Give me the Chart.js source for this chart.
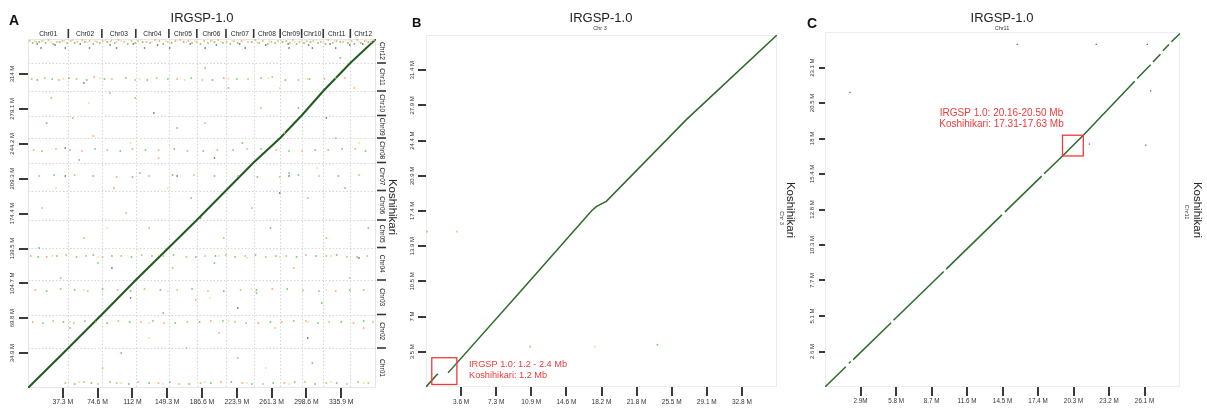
<!DOCTYPE html>
<html><head><meta charset="utf-8">
<script src="https://cdn.jsdelivr.net/npm/chart.js@4.4.1/dist/chart.umd.min.js"></script>
<style>
html,body{margin:0;padding:0;background:#fff;width:1207px;height:408px;overflow:hidden}
canvas{position:absolute;top:0}
#ca{left:0}#cb{left:405px}#cc{left:805px}
</style></head><body>
<canvas id="ca" width="405" height="408"></canvas>
<canvas id="cb" width="400" height="408"></canvas>
<canvas id="cc" width="402" height="408"></canvas>
<script>
// ---------------- DATA ----------------
const chrNames = ['Chr01','Chr02','Chr03','Chr04','Chr05','Chr06','Chr07','Chr08','Chr09','Chr10','Chr11','Chr12'];
const irgspChrLen = [43.27,35.94,36.41,35.50,29.96,31.25,29.70,28.44,23.01,23.21,29.02,27.53];
const koshChrLen  = [40.0,33.5,34.5,32.5,27.5,29.5,28.0,24.5,22.5,24.5,28.0,24.0];

const aXMax = 373.24, aYMax = 349;
const aXTicks = [37.3,74.6,112,149.3,186.6,223.9,261.3,298.6,335.9];
const aXLabels = ['37.3 M','74.6 M','112 M','149.3 M','186.6 M','223.9 M','261.3 M','298.6 M','335.9 M'];
const aYTicks = [34.9,69.8,104.7,139.5,174.4,209.3,244.2,279.1,314];
const aYLabels = ['34.9 M','69.8 M','104.7 M','139.5 M','174.4 M','209.3 M','244.2 M','279.1 M','314 M'];

const bXMax = 36.4, bYMax = 34.89;
const bXTicks = [3.64,7.28,10.92,14.56,18.2,21.84,25.48,29.12,32.76];
const bXLabels = ['3.6 M','7.3 M','10.9 M','14.6 M','18.2 M','21.8 M','25.5 M','29.1 M','32.8 M'];
const bYTicks = [3.49,6.98,10.47,13.96,17.45,20.93,24.42,27.91,31.4];
const bYLabels = ['3.5 M','7 M','10.5 M','13.9 M','17.4 M','20.9 M','24.4 M','27.9 M','31.4 M'];

const cXMax = 29.0, cYMax = 25.66;
const cXTicks = [2.9,5.8,8.7,11.6,14.5,17.4,20.3,23.2,26.1];
const cXLabels = ['2.9M','5.8 M','8.7 M','11.6 M','14.5 M','17.4 M','20.3 M','23.2 M','26.1 M'];
const cYTicks = [2.566,5.13,7.7,10.26,12.83,15.4,17.96,20.53,23.09];
const cYLabels = ['2.6 M','5.1 M','7.7 M','10.3 M','12.8 M','15.4 M','18 M','20.5 M','23.1 M'];

// Panel A: genome-wide diagonal (IRGSP Mb, Koshihikari Mb)
const aDiagonal = [[0,0],[43.27,40],[79.21,73.5],[115.62,108],[151.12,140.5],[181.08,168],[212.33,197.5],[242.03,225.5],[270.47,250],[293.48,272.5],[316.69,297],[345.71,325],[373.24,349]];
const aOrange = [[2,347],[9,346],[15,347],[22,348],[31,346],[37,347],[46,347],[53,346],[58,348],[66,347],[74,346],[80,347],[89,347],[97,348],[103,346],[111,347],[118,347],[127,346],[136,348],[141,347],[150,346],[158,347],[163,348],[172,347],[181,346],[189,347],[196,347],[204,348],[213,346],[221,347],[229,347],[236,346],[244,348],[252,347],[261,346],[268,347],[277,347],[284,348],[291,346],[299,347],[306,347],[314,346],[322,348],[331,347],[338,346],[347,347],[353,348],[361,347],[368,346],
[4,309],[18,310],[33,308],[52,309],[71,311],[90,309],[115,308],[138,310],[160,309],[187,308],[210,310],[236,309],[262,311],[290,308],[318,309],[340,310],
[6,238],[30,239],[58,237],[85,238],[112,239],[140,238],[171,237],[203,238],[235,239],[266,238],[294,237],[322,238],[351,239],
[12,212],[50,213],[95,211],[130,212],[178,213],[225,212],[270,211],[312,212],[355,213],
[3,132],[20,131],[41,133],[62,132],[80,131],[100,132],[122,133],[145,132],[170,131],[190,132],[212,133],[233,132],[255,131],[277,132],[298,133],[320,132],[342,131],[364,132],
[8,98],[35,99],[64,97],[96,98],[125,99],[160,98],[193,97],[228,98],[262,99],[295,98],[330,97],[360,98],
[5,66],[27,67],[49,65],[73,66],[97,67],[121,66],[146,65],[171,66],[196,67],[222,66],[247,65],[272,66],[298,67],[323,66],[349,65],[370,66],
[40,5],[60,6],[75,4],[95,5],[118,6],[140,5],[162,4],[185,5],[207,6],[230,5],[252,4],[275,5],[297,6],[320,5],[342,4],[365,5],
[25,290],[48,270],[70,252],[92,200],[105,175],[130,160],[155,120],[180,88],[205,55],[225,30],[250,280],[275,255],[300,190],[320,150],[345,110],[360,60],[15,180],[60,150],[115,290],[140,230],[190,265],[240,180],[285,120],[330,250],[350,300],[210,150],[170,40],[80,20],[35,110],[265,60]];
const aGreen = [[5,345],[12,346],[19,345],[27,344],[34,346],[42,345],[50,345],[61,346],[70,344],[77,345],[85,346],[93,345],[107,344],[115,345],[123,346],[131,345],[145,344],[154,345],[167,346],[176,345],[185,344],[193,345],[200,346],[209,345],[217,344],[225,345],[240,346],[248,345],[257,344],[265,345],[273,346],[281,345],[288,344],[296,345],[303,346],[311,345],[319,344],[327,345],[335,346],[343,345],[350,344],[357,345],[365,346],
[10,308],[26,309],[44,310],[63,308],[82,309],[105,310],[128,308],[150,309],[175,310],[198,308],[224,309],[250,310],[276,308],[302,309],[330,310],
[15,237],[45,238],[72,239],[99,237],[126,238],[157,239],[188,237],[220,238],[250,239],[280,237],[308,238],[337,239],[362,237],
[28,213],[70,212],[112,211],[155,213],[200,212],[246,211],[290,213],[333,212],
[11,131],[31,132],[52,131],[70,133],[90,132],[111,131],[133,132],[156,133],[180,131],[201,132],[222,131],[244,133],[266,132],[288,131],[309,132],[331,133],[353,131],
[20,97],[50,98],[80,99],[110,97],[142,98],[176,99],[210,97],[245,98],[278,99],[312,97],[345,98],
[16,65],[38,66],[61,67],[85,65],[109,66],[134,67],[158,65],[184,66],[209,67],[234,65],[260,66],[285,67],[311,65],[336,66],[360,67],
[50,4],[68,5],[88,6],[108,4],[130,5],[152,6],[173,4],[196,5],[218,6],[240,4],[263,5],[286,6],[308,4],[331,5],[354,6],
[20,265],[55,228],[88,295],[120,215],[145,75],[175,190],[200,125],[230,245],[260,160],[290,280],[315,85],[340,200],[365,160],[45,60],[75,125],[100,35],[160,260],[215,300],[245,95],[305,25],[335,330],[12,140],[190,320],[280,215]];
const aYellow = [[7,347],[17,348],[25,346],[39,347],[48,348],[63,346],[72,347],[83,348],[95,346],[100,347],[121,348],[133,346],[148,347],[160,348],[170,346],[179,347],[198,348],[207,346],[219,347],[232,348],[246,346],[259,347],[271,348],[286,346],[294,347],[309,348],[317,346],[329,347],[341,348],[355,346],[363,347],[371,348],
[38,309],[77,310],[120,309],[168,308],[215,309],[258,310],[300,309],
[26,132],[75,131],[140,133],[205,132],[270,131],[325,132],
[60,98],[150,97],[240,99],[320,98],
[45,66],[130,65],[215,67],[300,66],
[55,6],[100,5],[145,4],[190,6],[235,5],[280,4],[325,6],[360,5],
[30,200],[65,285],[110,245],[150,200],[195,90],[235,130],[270,300],[310,220],[355,245],[85,160],[130,50],[255,20]];
const aDark = [[10,344],[29,343],[56,344],[88,343],[113,344],[139,343],[174,344],[202,343],[227,344],[255,343],[279,344],[301,343],[324,344],[345,343],[359,344],
[14,340],[40,340],[66,340],[95,340],[125,340],[152,340],[190,340],[233,340],[280,340],[305,340],[330,340],
[40,212],[160,212],[280,212],
[40,240],[90,120],[135,275],[185,170],[225,80],[270,195],[320,270],[355,130],[60,305],[110,90],[200,230],[300,50]];

// Panel B: Chr 3 (IRGSP Mb, Koshihikari Mb)
const bSegments = [
  [[0,0],[1.22,1.31]],
  [[2.29,1.40],[10.0,9.7],[17.2,17.5],[17.7,17.9],[18.2,18.15],[18.7,18.4],[27.0,26.5],[36.4,34.89]]
];
const bDots = [[0.1,15.4],[3.2,15.4],[10.8,4.0],[17.5,4.0],[24.0,4.2]];
const bDotColors = ['#f5a05a','#f6c070','#f5a05a','#f6d48f','#62c462'];
const bBox = [0.6,0.25,3.2,2.9];

// Panel C: Chr11
const cSegments = [
  [[0,0],[1.7,1.46]],
  [[1.95,1.72],[2.1,1.84]],
  [[2.3,1.98],[5.4,4.65]],
  [[5.6,4.82],[9.7,8.35]],
  [[9.9,8.52],[14.45,12.44]],
  [[14.7,12.66],[17.7,15.24]],
  [[17.9,15.41],[19.4,16.7],[21.1,18.2],[25.3,22.1]],
  [[25.5,22.3],[26.6,23.3]],
  [[26.8,23.5],[27.4,24.05]],
  [[27.6,24.3],[28.1,24.75]],
  [[28.3,24.95],[29.0,25.55]]
];
const cDots = [[15.7,24.77],[22.16,24.77],[26.33,24.77],[2.04,21.3],[21.6,17.56],[26.2,17.49],[26.6,21.4]];
const cBox = [19.4,16.7,21.1,18.2];

// ---------------- HELPERS ----------------
const FONT = '"Liberation Sans", Arial, Helvetica, sans-serif';
const RED = '#f03a3a';
const LINE_GREEN = '#2a6a2a';
function txt(ctx, s, x, y, size, o) {
  o = o || {};
  ctx.save();
  ctx.font = (o.bold ? 'bold ' : '') + size + 'px ' + FONT;
  ctx.fillStyle = o.color || '#222';
  ctx.textAlign = o.align || 'center';
  ctx.textBaseline = o.baseline || 'alphabetic';
  ctx.translate(x, y);
  if (o.rot) ctx.rotate(o.rot);
  ctx.fillText(s, 0, 0);
  ctx.restore();
}
function cum(arr) { const r = [0]; arr.forEach(v => r.push(r[r.length - 1] + v)); return r; }
function pts(a) { return a.map(p => ({x: p[0], y: p[1]})); }
function xScale(max, ticks, tl) {
  return {type: 'linear', min: 0, max: max, position: 'bottom',
    afterBuildTicks: s => { s.ticks = ticks.map(v => ({value: v})); },
    afterFit: s => { s.height = 0; },
    ticks: {display: false},
    grid: {drawOnChartArea: false, drawTicks: true, tickLength: tl, tickWidth: 2, lineWidth: 2, tickColor: '#3a3a3a', color: '#3a3a3a'},
    border: {display: false}};
}
function yScale(max, ticks, tl) {
  return {type: 'linear', min: 0, max: max, position: 'left',
    afterBuildTicks: s => { s.ticks = ticks.map(v => ({value: v})); },
    afterFit: s => { s.width = 0; },
    ticks: {display: false},
    grid: {drawOnChartArea: false, drawTicks: true, tickLength: tl, tickWidth: 2, lineWidth: 2, tickColor: '#3a3a3a', color: '#3a3a3a'},
    border: {display: false}};
}
function dotSet(data, color, r) {
  return {type: 'scatter', data: pts(data), pointStyle: 'rect', pointRadius: r || 1.15, pointBorderWidth: 0,
    backgroundColor: color, borderColor: color, showLine: false};
}
function lineSet(data, color, w) {
  return {type: 'scatter', data: pts(data), showLine: true, borderColor: color, borderWidth: w, pointRadius: 0, fill: false, tension: 0};
}
function axisLabels(chart, xt, xl, xBase, xSize, yt, yl, yX, ySize) {
  const ctx = chart.ctx, xs = chart.scales.x, ys = chart.scales.y;
  xt.forEach((v, i) => txt(ctx, xl[i], xs.getPixelForValue(v), xBase, xSize, {color: '#333'}));
  yt.forEach((v, i) => txt(ctx, yl[i], yX, ys.getPixelForValue(v), ySize, {color: '#333', baseline: 'middle', rot: -Math.PI / 2}));
}
function border(chart, color) {
  const a = chart.chartArea, ctx = chart.ctx;
  ctx.save(); ctx.strokeStyle = color; ctx.lineWidth = 1;
  ctx.strokeRect(Math.round(a.left) + 0.5, Math.round(a.top) + 0.5, Math.round(a.right - a.left) - 1, Math.round(a.bottom - a.top) - 1);
  ctx.restore();
}
function redBox(chart, b) {
  const xs = chart.scales.x, ys = chart.scales.y, ctx = chart.ctx;
  const x1 = xs.getPixelForValue(b[0]), x2 = xs.getPixelForValue(b[2]);
  const y1 = ys.getPixelForValue(b[3]), y2 = ys.getPixelForValue(b[1]);
  ctx.save(); ctx.strokeStyle = RED; ctx.lineWidth = 1.3;
  ctx.strokeRect(x1, y1, x2 - x1, y2 - y1); ctx.restore();
}
function baseOpts(pad, xs, ys) {
  return {responsive: false, animation: false, events: [], devicePixelRatio: 1,
    layout: {padding: pad},
    scales: {x: xs, y: ys},
    plugins: {legend: {display: false}, tooltip: {enabled: false}, title: {display: false}}};
}

// ---------------- PANEL A ----------------
const irgspCum = cum(irgspChrLen), koshCum = cum(koshChrLen);
const aPlugin = {
  id: 'decorA',
  beforeDatasetsDraw(chart) {
    const ctx = chart.ctx, a = chart.chartArea, xs = chart.scales.x, ys = chart.scales.y;
    border(chart, '#e6e6e6');
    ctx.save(); ctx.strokeStyle = '#d6d6d6'; ctx.lineWidth = 1; ctx.setLineDash([1.5, 2]);
    irgspCum.slice(1, -1).forEach(v => { const p = Math.round(xs.getPixelForValue(v)) + 0.5; ctx.beginPath(); ctx.moveTo(p, a.top); ctx.lineTo(p, a.bottom); ctx.stroke(); });
    koshCum.slice(1, -1).forEach(v => { const p = Math.round(ys.getPixelForValue(v)) + 0.5; ctx.beginPath(); ctx.moveTo(a.left, p); ctx.lineTo(a.right, p); ctx.stroke(); });
    ctx.restore();
  },
  afterDraw(chart) {
    const ctx = chart.ctx, xs = chart.scales.x, ys = chart.scales.y;
    txt(ctx, 'A', 9, 25, 14, {bold: true, align: 'left', color: '#111'});
    txt(ctx, 'IRGSP-1.0', 202, 22, 13, {color: '#222'});
    txt(ctx, 'Koshihikari', 392, 207, 11.5, {rot: Math.PI / 2, baseline: 'middle', color: '#222'});
    axisLabels(chart, aXTicks, aXLabels, 404, 6.8, aYTicks, aYLabels, 12, 6);
    ctx.save(); ctx.strokeStyle = '#333'; ctx.lineWidth = 1.6;
    irgspCum.slice(1, -1).forEach(v => { const p = xs.getPixelForValue(v); ctx.beginPath(); ctx.moveTo(p, 29); ctx.lineTo(p, 38); ctx.stroke(); });
    koshCum.slice(1, -1).forEach(v => { const p = ys.getPixelForValue(v); ctx.beginPath(); ctx.moveTo(377, p); ctx.lineTo(386, p); ctx.stroke(); });
    ctx.restore();
    chrNames.forEach((n, i) => {
      txt(ctx, n, xs.getPixelForValue((irgspCum[i] + irgspCum[i + 1]) / 2), 36, 6.6, {color: '#222'});
      txt(ctx, n, 381.5, ys.getPixelForValue((koshCum[i] + koshCum[i + 1]) / 2), 6.6, {color: '#222', rot: Math.PI / 2, baseline: 'middle'});
    });
  }
};
new Chart(document.getElementById('ca'), {
  type: 'scatter',
  data: {datasets: [
    dotSet(aYellow, '#f8d898'), dotSet(aOrange, '#f6a966'), dotSet(aGreen, '#6ccb6c'), dotSet(aDark, '#5a5a5a', 1.0),
    lineSet(aDiagonal, '#1f5a1f', 2)
  ]},
  options: baseOpts({left: 28, right: 29, top: 39, bottom: 20}, xScale(aXMax, aXTicks, 10), yScale(aYMax, aYTicks, 9)),
  plugins: [aPlugin]
});

// ---------------- PANEL B ----------------
const bPlugin = {
  id: 'decorB',
  beforeDatasetsDraw(chart) { border(chart, '#ececec'); },
  afterDraw(chart) {
    const ctx = chart.ctx;
    txt(ctx, 'B', 7, 27, 13, {bold: true, align: 'left', color: '#111'});
    txt(ctx, 'IRGSP-1.0', 196, 22, 13, {color: '#222'});
    txt(ctx, 'Chr 3', 195, 29.5, 5.5, {color: '#333'});
    txt(ctx, 'Koshihikari', 385, 210, 11.5, {rot: Math.PI / 2, baseline: 'middle', color: '#222'});
    txt(ctx, 'Chr 3', 377, 218, 5.5, {rot: Math.PI / 2, baseline: 'middle', color: '#333'});
    axisLabels(chart, bXTicks, bXLabels, 404, 6.5, bYTicks, bYLabels, 7, 6);
    redBox(chart, bBox);
    txt(ctx, 'IRGSP 1.0: 1.2 - 2.4 Mb', 64, 367, 9.2, {align: 'left', color: RED});
    txt(ctx, 'Koshihikari: 1.2 Mb', 64, 377.5, 9.2, {align: 'left', color: RED});
  }
};
const bSets = bSegments.map(s => lineSet(s, LINE_GREEN, 1.5));
bDots.forEach((d, i) => bSets.push(dotSet([d], bDotColors[i], 1.1)));
new Chart(document.getElementById('cb'), {
  type: 'scatter',
  data: {datasets: bSets},
  options: baseOpts({left: 21, right: 28, top: 35, bottom: 21}, xScale(bXMax, bXTicks, 9), yScale(bYMax, bYTicks, 8)),
  plugins: [bPlugin]
});

// ---------------- PANEL C ----------------
const cPlugin = {
  id: 'decorC',
  beforeDatasetsDraw(chart) { border(chart, '#ececec'); },
  afterDraw(chart) {
    const ctx = chart.ctx;
    txt(ctx, 'C', 2, 28, 14, {bold: true, align: 'left', color: '#111'});
    txt(ctx, 'IRGSP-1.0', 197, 22, 13, {color: '#222'});
    txt(ctx, 'Chr11', 197, 29.5, 5.5, {color: '#333'});
    txt(ctx, 'Koshihikari', 392, 210, 11.5, {rot: Math.PI / 2, baseline: 'middle', color: '#222'});
    txt(ctx, 'Chr11', 382, 212, 5.5, {rot: Math.PI / 2, baseline: 'middle', color: '#333'});
    axisLabels(chart, cXTicks, cXLabels, 403, 6.3, cYTicks, cYLabels, 7, 6);
    redBox(chart, cBox);
    txt(ctx, 'IRGSP 1.0: 20.16-20.50 Mb', 196.5, 116, 10, {color: RED});
    txt(ctx, 'Koshihikari: 17.31-17.63 Mb', 196.5, 126.5, 10, {color: RED});
  }
};
const cSets = cSegments.map(s => lineSet(s, LINE_GREEN, 1.5));
cSets.push(dotSet(cDots, '#3f7f3f', 0.9));
new Chart(document.getElementById('cc'), {
  type: 'scatter',
  data: {datasets: cSets},
  options: baseOpts({left: 20, right: 27, top: 32, bottom: 21}, xScale(cXMax, cXTicks, 9), yScale(cYMax, cYTicks, 6)),
  plugins: [cPlugin]
});
</script>
</body></html>
